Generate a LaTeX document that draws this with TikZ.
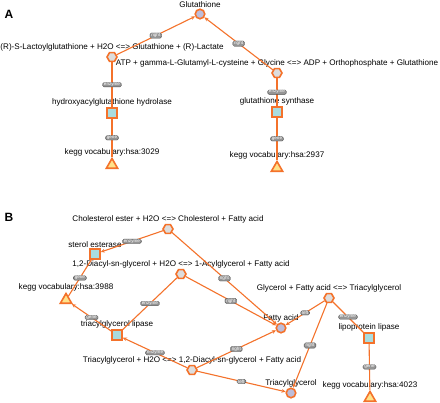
\documentclass[tikz,border=0pt]{standalone}
\usepackage{fontspec}
\setmainfont{Liberation Sans}
\usepackage{tikz}
\usetikzlibrary{positioning, arrows.meta, shapes.geometric}
\definecolor{keggorange}{HTML}{F4722B}
\definecolor{compoundfill}{HTML}{BDBDDA}
\definecolor{reactionfill}{HTML}{DDDDDD}
\definecolor{enzymefill}{HTML}{A9DCDF}
\definecolor{genefill}{HTML}{FFE28A}
\definecolor{taggray}{HTML}{959595}

\tikzset{
  compound/.style={circle, draw=keggorange, line width=1.6pt, fill=compoundfill,
    minimum size=9.5pt, inner sep=0pt},
  reaction/.style={regular polygon, regular polygon sides=6, draw=keggorange,
    line width=1.6pt, fill=reactionfill, minimum size=10pt, inner sep=0pt},
  enzyme/.style={rectangle, draw=keggorange, line width=1.6pt, fill=enzymefill,
    minimum size=10pt, inner sep=0pt},
  gene/.style={regular polygon, regular polygon sides=3, draw=keggorange,
    line width=1.6pt, fill=genefill, minimum size=13pt, inner sep=0pt},
  nodetext/.style={font=\fontsize{8.1}{9}\selectfont, inner sep=0.5pt, text=black},
  every label/.style={nodetext},
  label distance=0pt,
  link/.style={draw=keggorange, line width=1.1pt},
  arrow/.style={link, -{Stealth[length=4pt, width=3.6pt]}},
  tag/.style={fill=taggray, draw=gray!60!black, line width=0.3pt, text=white,
    rounded corners=1.5pt, inner xsep=1.4pt, inner ysep=0.5pt,
    font=\fontsize{4.6}{5}\selectfont},
  panel/.style={font=\bfseries\fontsize{12}{14}\selectfont},
}

\begin{document}
\begin{tikzpicture}[x=1pt, y=-1pt]
  \useasboundingbox[fill=white] (0,0) rectangle (440,403);

  % panel A
  \node[panel] (panelA) at (9,14) {A};
  \node[compound, label=above:Glutathione] (glutathione) at (200,14) {};
  \node[reaction, label=above:{(R)-S-Lactoylglutathione + H2O <=> Glutathione + (R)-Lactate}] (rxnlacto) at (112,57) {};
  \node[reaction, label=above:{ATP + gamma-L-Glutamyl-L-cysteine + Glycine <=> ADP + Orthophosphate + Glutathione}] (rxnatp) at (277,73) {};
  \node[enzyme, label=above:hydroxyacylglutathione hydrolase] (hydrolase) at (112,113) {};
  \node[enzyme, label=above:glutathione synthase] (synthase) at (277,112) {};
  \node[gene, label=above:{kegg vocabulary:hsa:3029}] (hsa3029) at (112,165) {};
  \node[gene, label=above:{kegg vocabulary:hsa:2937}] (hsa2937) at (277,168) {};

  \draw[arrow] (rxnlacto) -- node[tag] {right} (glutathione);
  \draw[arrow] (rxnatp) -- node[tag] {right} (glutathione);
  \draw[link] (rxnlacto) -- node[tag] {enzyme} (hydrolase);
  \draw[link] (rxnatp) -- node[tag] {enzyme} (synthase);
  \draw[link] (hydrolase) -- node[tag] {gene} (hsa3029);
  \draw[link] (synthase) -- node[tag] {gene} (hsa2937);

  % panel B
  \node[panel] (panelB) at (9,217) {B};
  \node[reaction, label=above:{Cholesterol ester + H2O <=> Cholesterol + Fatty acid}] (rxnchol) at (168,229) {};
  \node[enzyme, label=above:sterol esterase] (esterase) at (95,254) {};
  \node[reaction, label=above:{1,2-Diacyl-sn-glycerol + H2O <=> 1-Acylglycerol + Fatty acid}] (rxndiacyl) at (181,274) {};
  \node[gene, label=above:{kegg vocabulary:hsa:3988}] (hsa3988) at (66,300) {};
  \node[enzyme, label=above:triacylglycerol lipase] (tglipase) at (117,335) {};
  \node[compound, label=above:Fatty acid] (fattyacid) at (281,328) {};
  \node[reaction, label=above:{Glycerol + Fatty acid <=> Triacylglycerol}] (rxnglycerol) at (329,298) {};
  \node[enzyme, label=above:lipoprotein lipase] (lplipase) at (369,338) {};
  \node[gene, label=above:{kegg vocabulary:hsa:4023}] (hsa4023) at (370,398) {};
  \node[reaction, label=above:{Triacylglycerol + H2O <=> 1,2-Diacyl-sn-glycerol + Fatty acid}] (rxntriacyl) at (192,370) {};
  \node[compound, label=above:Triacylglycerol] (triacylglycerol) at (291,393) {};

  \draw[arrow] (rxnchol) -- node[tag] {enzyme} (esterase);
  \draw[link] (esterase) -- node[tag] {gene} (hsa3988);
  \draw[arrow] (rxnchol) -- node[tag] {right} (fattyacid);
  \draw[link] (rxndiacyl) -- node[tag] {enzyme} (tglipase);
  \draw[arrow] (rxndiacyl) -- node[tag] {right} (fattyacid);
  \draw[arrow] (tglipase) -- node[tag] {gene} (hsa3988);
  \draw[arrow] (rxnglycerol) -- node[tag] {left} (fattyacid);
  \draw[arrow] (rxnglycerol) -- node[tag] {right} (triacylglycerol);
  \draw[link] (rxnglycerol) -- node[tag] {enzyme} (lplipase);
  \draw[link] (lplipase) -- node[tag] {gene} (hsa4023);
  \draw[arrow] (rxntriacyl) -- node[tag] {enzyme} (tglipase);
  \draw[arrow] (rxntriacyl) -- node[tag] {right} (fattyacid);
  \draw[arrow] (rxntriacyl) -- node[tag] {left} (triacylglycerol);
\end{tikzpicture}
\end{document}
